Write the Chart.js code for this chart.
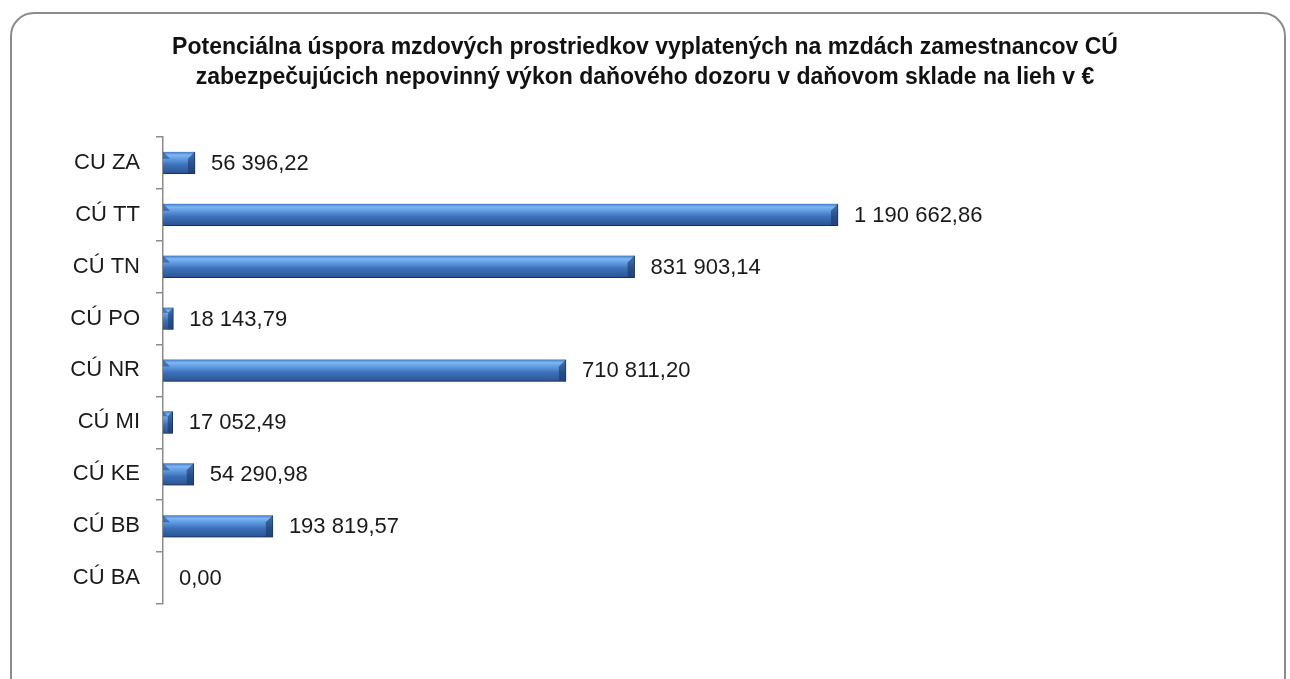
<!DOCTYPE html>
<html>
<head>
<meta charset="utf-8">
<script src="https://cdn.jsdelivr.net/npm/chart.js@4/dist/chart.umd.min.js"></script>
<style>
  html, body { margin: 0; padding: 0; background: #fff; overflow: hidden; }
  .ramik { position: absolute; left: 10px; top: 12px; width: 1272px; height: 720px;
           border: 2px solid #8c8c8c; border-radius: 24px; }
  .plocha { position: absolute; left: 0; top: 0; width: 1290px; height: 679px; }
</style>
</head>
<body>
<div class="ramik"></div>
<div class="plocha"><canvas id="grafUspora"></canvas></div>
<script>
// hodnoty odčítané z grafu
const colne = ['CU ZA', 'CÚ TT', 'CÚ TN', 'CÚ PO', 'CÚ NR', 'CÚ MI', 'CÚ KE', 'CÚ BB', 'CÚ BA'];
const uspora = [56396.22, 1190662.86, 831903.14, 18143.79, 710811.20, 17052.49, 54290.98, 193819.57, 0.00];
const nadpis = [
  'Potenciálna úspora mzdových prostriedkov vyplatených na mzdách zamestnancov CÚ',
  'zabezpečujúcich nepovinný výkon daňového dozoru v daňovom sklade na lieh v €'
];

const pismo = '"Liberation Sans", Arial, sans-serif';

function formatSk(v) {
  let [cele, des] = v.toFixed(2).split('.');
  cele = cele.replace(/\B(?=(\d{3})+(?!\d))/g, ' ');
  return cele + ',' + des;
}

// gradient pre kazdy stlpec zvlast
function farbaStlpca(ctx) {
  const chart = ctx.chart;
  const y = chart.scales.y;
  if (!y || ctx.dataIndex === undefined) return '#4a86d0';
  const yc = y.getPixelForValue(ctx.dataIndex);
  if (!isFinite(yc)) return '#4a86d0';
  const g = chart.ctx.createLinearGradient(0, yc - 11, 0, yc + 11);
  g.addColorStop(0, '#3f78c4');
  g.addColorStop(0.15, '#7fb6f2');
  g.addColorStop(0.35, '#5c98e0');
  g.addColorStop(0.6, '#3d70b8');
  g.addColorStop(1, '#2a5490');
  return g;
}

const tienPlugin = {
  id: 'tien',
  beforeDatasetsDraw(chart) {
    const c = chart.ctx;
    c.save();
    c.shadowColor = 'rgba(0,0,0,0.35)';
    c.shadowBlur = 5;
    c.shadowOffsetY = 4;
    c.shadowOffsetX = 1;
  },
  afterDatasetsDraw(chart) {
    chart.ctx.restore();
  }
};

// skosene konce stlpcov + popisky hodnot
const popiskyPlugin = {
  id: 'popisky',
  afterDatasetsDraw(chart) {
    const c = chart.ctx;
    const meta = chart.getDatasetMeta(0);
    c.save();
    meta.data.forEach((bar) => {
      const x0 = bar.base, x1 = bar.x;
      const w = x1 - x0;
      if (w < 1) return;
      const top = bar.y - bar.height / 2, bot = bar.y + bar.height / 2;
      const b = Math.min(7, w / 2);
      c.fillStyle = 'rgba(30,65,120,0.55)';
      c.beginPath();
      c.moveTo(x0, top); c.lineTo(x0 + b, top + b); c.lineTo(x0, top + b);
      c.closePath(); c.fill();
      c.fillStyle = 'rgba(25,55,105,0.6)';
      c.beginPath();
      c.moveTo(x1 - b, top + b); c.lineTo(x1, top); c.lineTo(x1, bot); c.lineTo(x1 - b, bot - 1);
      c.closePath(); c.fill();
    });
    c.font = '22px ' + pismo;
    c.fillStyle = '#1a1a1a';
    c.textBaseline = 'middle';
    c.textAlign = 'left';
    meta.data.forEach((bar, i) => {
      c.fillText(formatSk(uspora[i]), bar.x + 16, bar.y + 1);
    });
    c.restore();
  }
};

new Chart(document.getElementById('grafUspora'), {
  type: 'bar',
  data: {
    labels: colne,
    datasets: [{
      data: uspora,
      backgroundColor: farbaStlpca,
      borderColor: '#23477a',
      borderWidth: { top: 0, bottom: 1, left: 0, right: 1 },
      borderSkipped: false,
      barThickness: 22
    }]
  },
  plugins: [tienPlugin, popiskyPlugin],
  options: {
    indexAxis: 'y',
    responsive: true,
    maintainAspectRatio: false,
    animation: false,
    layout: { padding: { left: 0, right: 0, top: 0, bottom: 75 } },
    plugins: {
      legend: { display: false },
      tooltip: { enabled: false },
      title: {
        display: true,
        text: nadpis,
        color: '#111',
        font: { size: 23, weight: 'bold', family: pismo, lineHeight: 1.3 },
        padding: { top: 33, bottom: 44 }
      }
    },
    scales: {
      x: {
        display: false,
        min: 0,
        max: 1988000
      },
      y: {
        offset: true,
        afterFit(scale) { scale.width = 163; },
        ticks: {
          color: '#1a1a1a',
          padding: 16,
          font: { size: 22, family: pismo }
        },
        grid: {
          offset: true,
          drawOnChartArea: false,
          drawTicks: true,
          tickLength: 7,
          color: '#8c8c8c',
          lineWidth: 1.5
        },
        border: { color: '#8c8c8c', width: 1.5 }
      }
    }
  }
});
</script>
</body>
</html>
